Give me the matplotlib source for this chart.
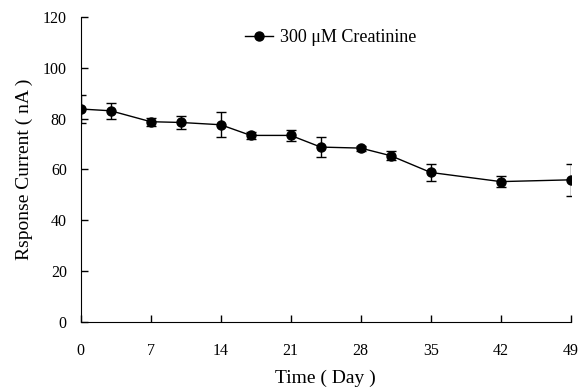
import matplotlib.pyplot as plt
import numpy as np

plt.rcParams['font.family'] = ['Liberation Serif', 'DejaVu Serif']

days = [0, 3, 7, 10, 14, 17, 21, 24, 28, 31, 35, 42, 49]
current = [83.8, 83.1, 78.8, 78.5, 77.6, 73.4, 73.4, 68.8, 68.4, 65.4, 58.8, 55.2, 55.9]
error = [5.5, 3.2, 1.5, 2.7, 5.0, 1.5, 2.2, 3.8, 1.0, 1.8, 3.5, 2.2, 6.2]

fig = plt.figure(figsize=(5.82, 3.92), dpi=100)
ax = fig.add_axes([0.1387, 0.1793, 0.842, 0.777])

# error bars first, then the line with markers on top
ax.errorbar(days, current, yerr=error, color='black', fmt='none',
            elinewidth=1, capsize=3.5, capthick=1)
ax.plot(days, current, color='black', marker='o', markersize=6.5,
        linewidth=1, label='300 \u03bcM Creatinine')

ax.set_xlim(0, 49)
ax.set_ylim(0, 120)
ax.set_xticks(np.arange(0, 50, 7))
ax.set_yticks(np.arange(0, 121, 20))
ax.tick_params(direction='in', length=5, width=1, labelsize=11.5)
ax.tick_params(axis='x', pad=15)
ax.tick_params(axis='y', pad=10)
ax.spines['top'].set_visible(False)
ax.spines['right'].set_visible(False)
ax.set_xlabel('Time ( Day )', fontsize=14, labelpad=8)
ax.set_ylabel('Rsponse Current ( nA )', fontsize=14, labelpad=7)

fig.legend(loc='center left', bbox_to_anchor=(245 / 582, 1 - 38 / 392), frameon=False,
           fontsize=13, handlelength=1.55, handletextpad=0.4, borderpad=0,
           borderaxespad=0)

fig.savefig('out.png', dpi=100)
